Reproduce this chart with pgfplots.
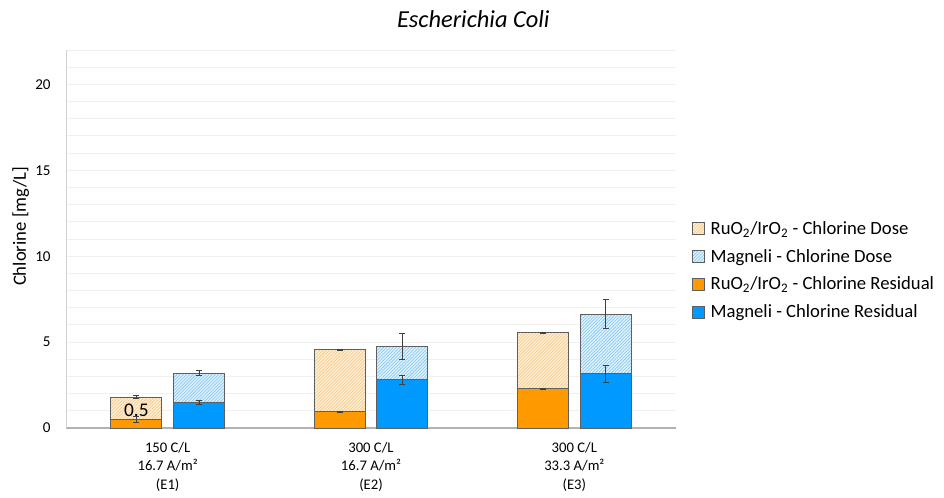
\documentclass[border=0pt]{standalone}
\usepackage{fontspec}
\setmainfont{Carlito}
\usepackage{pgfplots}
\pgfplotsset{compat=1.18}
\usetikzlibrary{patterns.meta}

\definecolor{ruo}{HTML}{FF9900}
\definecolor{mag}{HTML}{0099FF}
\definecolor{ruobg}{HTML}{FDEFD9}
\definecolor{magbg}{HTML}{E3F3FD}
\definecolor{ruohatch}{HTML}{F9CB86}
\definecolor{maghatch}{HTML}{85C8F3}
\definecolor{barline}{HTML}{5F5F5F}
\definecolor{errline}{HTML}{404040}
\definecolor{gridc}{HTML}{F0F0F0}

\pgfplotsset{
  errbars/.style={
    error bars/y dir=both, error bars/y explicit,
    error bars/error bar style={errline, line width=0.6pt},
    error bars/error mark options={rotate=90, mark size=2.3pt, errline, line width=0.6pt},
  },
}

\begin{document}
\begin{tikzpicture}
% fixed page frame around the plot area
\path[use as bounding box] (-49.5pt,-51.75pt) rectangle (658.5pt,321pt);

\begin{axis}[
  at={(0,0)}, anchor=south west,
  scale only axis, width=457.5pt, height=283.5pt,
  ybar, bar width=0.251,
  xmin=-0.5, xmax=2.5, ymin=0, ymax=22,
  xtick={0,1,2},
  xticklabels={{150 C/L\\16.7 A/m²\\(E1)},{300 C/L\\16.7 A/m²\\(E2)},{300 C/L\\33.3 A/m²\\(E3)}},
  xticklabel style={align=center, font=\fontsize{11}{13.8}\selectfont, yshift=-7pt},
  ytick={0,5,10,15,20},
  minor ytick={1,2,3,4,6,7,8,9,11,12,13,14,16,17,18,19,21,22},
  yticklabel style={font=\fontsize{11.3}{13}\selectfont, xshift=-8pt},
  /pgf/number format/assume math mode=true,
  ymajorgrids, yminorgrids,
  major grid style={gridc, line width=0.75pt},
  minor grid style={gridc, line width=0.75pt},
  major tick length=0pt, minor tick length=0pt,
  axis x line*=bottom, axis y line*=left,
  x axis line style={-, color=gray!60, line width=1pt},
  y axis line style={-, color=gray!35, line width=0.75pt},
  ylabel={Chlorine [mg/L]},
  every axis y label/.style={at={(axis description cs:-0.074,0.533)}, rotate=90, anchor=center, font=\fontsize{14}{16}\selectfont},
  legend style={at={(1.0255,0.4167)}, anchor=west, draw=none, fill=none,
    font=\fontsize{14}{16}\selectfont, row sep=6.6pt, inner sep=0pt,
    nodes={inner sep=1.5pt}},
  legend cell align=left,
  legend image code/.code={\draw[#1, line width=0.6pt] (0pt,-4.5pt) rectangle (9pt,4.5pt); \path (12pt,0pt);},
]

% chlorine dose (hatched, drawn first)
\addplot[errbars, bar shift=-0.154, draw=barline, line width=0.7pt, fill=ruobg,
  postaction={pattern={Lines[angle=45, distance=1.7pt, line width=0.55pt]}, pattern color=ruohatch}]
  coordinates {(0,1.80) +- (0,0.10) (1,4.56) +- (0,0.02) (2,5.55) +- (0,0.03)};
\addlegendentry{RuO\textsubscript{2}/IrO\textsubscript{2} - Chlorine Dose}

\addplot[errbars, bar shift=0.154, draw=barline, line width=0.7pt, fill=magbg,
  postaction={pattern={Lines[angle=45, distance=1.7pt, line width=0.55pt]}, pattern color=maghatch}]
  coordinates {(0,3.20) +- (0,0.15) (1,4.75) +- (0,0.75) (2,6.63) +- (0,0.86)};
\addlegendentry{Magneli - Chlorine Dose}

% chlorine residual (solid, drawn over the dose)
\addplot[errbars, bar shift=-0.154, draw=barline, line width=0.7pt, fill=ruo]
  coordinates {(0,0.50) +- (0,0.15) (1,0.95) +- (0,0.03) (2,2.28) +- (0,0.03)};
\addlegendentry{RuO\textsubscript{2}/IrO\textsubscript{2} - Chlorine Residual}

\addplot[errbars, bar shift=0.154, draw=barline, line width=0.7pt, fill=mag]
  coordinates {(0,1.50) +- (0,0.10) (1,2.82) +- (0,0.26) (2,3.15) +- (0,0.52)};
\addlegendentry{Magneli - Chlorine Residual}

% value label on the E1 residual
\addplot[bar shift=-0.154, draw=none, fill=none, forget plot,
  nodes near coords, every node near coord/.append style={font=\fontsize{14.5}{16}\selectfont, black, anchor=base, yshift=2.5pt}]
  coordinates {(0,0.50)};

\end{axis}

\node[anchor=base, font=\itshape\fontsize{18.3}{21}\selectfont] at (305.5pt,300pt) {Escherichia Coli};
\end{tikzpicture}
\end{document}
